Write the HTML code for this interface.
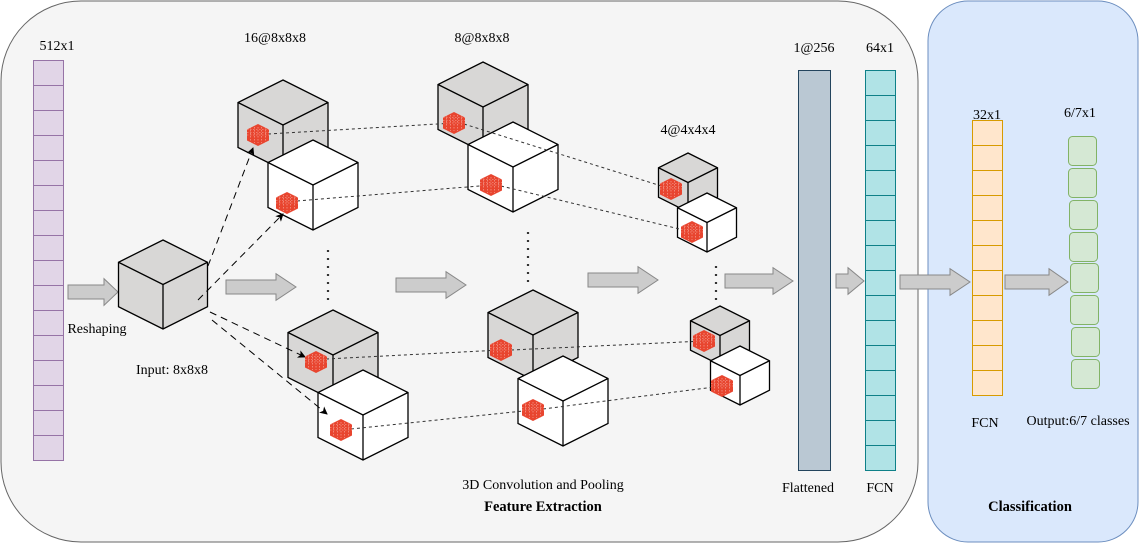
<!DOCTYPE html>
<html><head><meta charset="utf-8"><style>
html,body{margin:0;padding:0;background:#fff;}
svg{display:block;font-family:"Liberation Serif",serif;}
</style></head><body>
<svg id="s" width="1139" height="543" viewBox="0 0 1139 543" xmlns="http://www.w3.org/2000/svg">
<defs>
<marker id="ah" markerWidth="8" markerHeight="8" refX="7" refY="4" orient="auto" markerUnits="userSpaceOnUse"><path d="M0,0 L8,4 L0,8 L2,4z" fill="#000"/></marker>
</defs>
<rect x="1" y="1" width="917" height="541" rx="80" ry="80" fill="#f5f5f5" stroke="#666" stroke-width="1"/>
<rect x="928" y="1" width="210" height="541" rx="40" ry="40" fill="#dae8fc" stroke="#6c8ebf" stroke-width="1"/>
<g id="g"></g>
<g font-size="14" fill="#000" text-anchor="middle">
<text x="57" y="50">512x1</text>
<text x="275" y="42">16@8x8x8</text>
<text x="482" y="42">8@8x8x8</text>
<text x="688" y="134">4@4x4x4</text>
<text x="814" y="52">1@256</text>
<text x="880" y="52">64x1</text>
<text x="987" y="119">32x1</text>
<text x="1080" y="117">6/7x1</text>
<text x="97" y="333">Reshaping</text>
<text x="172" y="374">Input: 8x8x8</text>
<text x="543" y="489">3D Convolution and Pooling</text>
<text x="543" y="511" font-weight="bold" font-size="14.5">Feature Extraction</text>
<text x="808" y="492">Flattened</text>
<text x="880" y="492">FCN</text>
<text x="985" y="427">FCN</text>
<text x="1078" y="425">Output:6/7 classes</text>
<text x="1030" y="511" font-weight="bold" font-size="14.5">Classification</text>
</g>
</svg>
<script>
var g=document.getElementById('g'),h='';
function P(pts){return pts.map(function(p){return p[0]+','+p[1]}).join(' ');}
function cube(cx,t,w,fill){
 var a=[[cx,t],[cx+w,t+w/2],[cx+w,t+1.5*w],[cx,t+2*w],[cx-w,t+1.5*w],[cx-w,t+w/2]];
 h+='<polygon points="'+P(a)+'" fill="'+fill+'" stroke="#000" stroke-width="1.3"/>';
 h+='<polyline points="'+P([[cx-w,t+w/2],[cx,t+w],[cx+w,t+w/2]])+'" fill="none" stroke="#000" stroke-width="1.3"/>';
 h+='<line x1="'+cx+'" y1="'+(t+w)+'" x2="'+cx+'" y2="'+(t+2*w)+'" stroke="#000" stroke-width="1.3"/>';
}
function red(cx,cy){
 var w=11,t=cy-w;
 var a=[[cx,t],[cx+w,t+w/2],[cx+w,t+1.5*w],[cx,t+2*w],[cx-w,t+1.5*w],[cx-w,t+w/2]];
 h+='<polygon points="'+P(a)+'" fill="#e8452f"/>';
 for(var i=1;i<4;i++){var y=t+w/2+i*w/4;h+='<line x1="'+(cx-w)+'" y1="'+(y-w/4)+'" x2="'+(cx+w)+'" y2="'+(y-w/4)+'" stroke="#f7b0a5" stroke-width="0.6" stroke-dasharray="1.5,1.5"/>';}
 for(var j=-2;j<=2;j++){var x=cx+j*w/3;h+='<line x1="'+x+'" y1="'+(t+3)+'" x2="'+x+'" y2="'+(t+2*w-3)+'" stroke="#f7b0a5" stroke-width="0.6" stroke-dasharray="1.5,1.5"/>';}
}
function dl(x1,y1,x2,y2){h+='<line x1="'+x1+'" y1="'+y1+'" x2="'+x2+'" y2="'+y2+'" stroke="#333" stroke-width="1" stroke-dasharray="3,3"/>';}
function da(x1,y1,x2,y2){h+='<line x1="'+x1+'" y1="'+y1+'" x2="'+x2+'" y2="'+y2+'" stroke="#000" stroke-width="1" stroke-dasharray="7,5" marker-end="url(#ah)"/>';}
function dots(x,y1,y2){h+='<line x1="'+x+'" y1="'+y1+'" x2="'+x+'" y2="'+y2+'" stroke="#333" stroke-width="2.2" stroke-dasharray="2,6"/>';}
function arrow(x1,x2,cy,hh,head){
 var t=hh/2,H=hh*1.9/2;
 var pts=[[x1,cy-t],[x2-head,cy-t],[x2-head,cy-H],[x2,cy],[x2-head,cy+H],[x2-head,cy+t],[x1,cy+t]];
 h+='<polygon points="'+P(pts)+'" fill="#cccccc" stroke="#888" stroke-width="1"/>';
}
function col(x,y,w,n,ch,fill,stroke){
 for(var i=0;i<n;i++)h+='<rect x="'+x+'" y="'+(y+i*ch)+'" width="'+w+'" height="'+ch+'" fill="'+fill+'" stroke="'+stroke+'" stroke-width="1"/>';
}
col(33.5,60.5,30,16,25,'#e1d5e7','#9673a6');
h+='<rect x="798.5" y="70.5" width="32" height="400" fill="#bac8d3" stroke="#23445d" stroke-width="1"/>';
col(865.5,70.5,30,16,25,'#b0e3e6','#0e8088');
col(972.5,120.5,30,11,25,'#ffe6cc','#d79b00');
var gy=[136,168,200,232,263,295,327,359],gx=[1068,1068,1069,1069,1070,1070,1071,1071];
for(var i=0;i<8;i++)h+='<rect x="'+(gx[i]+.5)+'" y="'+(gy[i]+.5)+'" width="28" height="29" rx="4" fill="#d5e8d4" stroke="#82b366" stroke-width="1"/>';
arrow(68,118,292,14,14);
arrow(226,296,287,14,20);
arrow(396,466,285,14,20);
arrow(588,658,280,14,20);
arrow(725,793,281,14,20);
arrow(836,864,281,14,16);
arrow(900,970,282,14,20);
arrow(1005,1068,282,14,19);
cube(163,240,44.5,'#d8d7d6');
cube(283,80,45,'#d8d7d6');
cube(313,140,45,'#ffffff');
cube(333,310,45,'#d8d7d6');
cube(363,370,45,'#ffffff');
cube(483,62,45,'#d8d7d6');
cube(513,122,45,'#ffffff');
cube(533,290,45,'#d8d7d6');
cube(563,356,45,'#ffffff');
cube(688,153,29.5,'#d8d7d6');
cube(707,193,29.5,'#ffffff');
cube(720,306,29.5,'#d8d7d6');
cube(740,346,29.5,'#ffffff');
dl(268,134,454,123);dl(464,124,671,189);
dl(297,201,491,185);dl(501,186,692,232);
dl(326,359,501,350);dl(511,350,704,341);
dl(351,429,533,410);dl(543,409,722,386);
dots(328,250,300);dots(528,232,282);dots(716,266,302);
da(208,266,253,148);
da(198,300,283,214);
da(210,312,305,357);
da(212,320,327,414);
var rc=[[258,135],[287,203],[454,123],[491,185],[671,189],[692,232],[704,341],[722,386],[316,362],[341,430],[501,350],[533,410]];
rc.forEach(function(p){red(p[0],p[1]);});
g.innerHTML=h;
</script>
</body></html>
